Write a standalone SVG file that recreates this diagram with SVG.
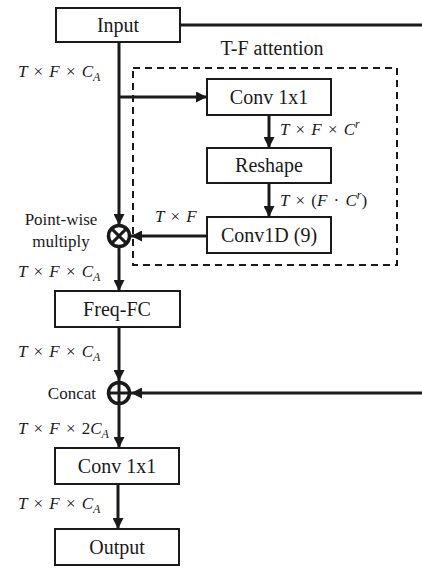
<svg xmlns="http://www.w3.org/2000/svg" width="422" height="568" viewBox="0 0 422 568" font-family="Liberation Serif, Times New Roman, serif">
<defs>
<style>
.box{fill:#fff;stroke:#1a1a1a;stroke-width:2}
.bt{font-size:20px;fill:#1a1a1a;text-anchor:middle}
.lbl{font-size:17px;fill:#1a1a1a}
.m{font-size:17px;fill:#1a1a1a;font-style:italic;word-spacing:2px}
.up{font-style:normal}
.sub{font-size:12px}
.ln{fill:none;stroke:#1a1a1a;stroke-width:3}
.dash{fill:none;stroke:#1a1a1a;stroke-width:2;stroke-dasharray:7,5}
</style>
<marker id="ah" markerUnits="userSpaceOnUse" markerWidth="11" markerHeight="11" viewBox="0 0 11 11" refX="11" refY="5.5" orient="auto">
<path d="M0,0 L11,5.5 L0,11 Z" fill="#1a1a1a"/>
</marker>
</defs>
<rect width="422" height="568" fill="#fff"/>

<g id="attention-frame">
<rect class="dash" x="133" y="68" width="264" height="197"/>
<text class="bt" x="272" y="55">T-F attention</text>
</g>

<g id="connectors">
<line class="ln" x1="180" y1="25" x2="422" y2="25"/>
<line class="ln" x1="119" y1="42" x2="119" y2="225" marker-end="url(#ah)"/>
<line class="ln" x1="118" y1="97" x2="207" y2="97" marker-end="url(#ah)"/>
<line class="ln" x1="269" y1="115" x2="269" y2="148" marker-end="url(#ah)"/>
<line class="ln" x1="269" y1="183" x2="269" y2="217" marker-end="url(#ah)"/>
<line class="ln" x1="207" y1="236" x2="131" y2="236" marker-end="url(#ah)"/>
<line class="ln" x1="119" y1="248" x2="119" y2="291" marker-end="url(#ah)"/>
<line class="ln" x1="119" y1="327" x2="119" y2="381" marker-end="url(#ah)"/>
<line class="ln" x1="422" y1="393" x2="131" y2="393" marker-end="url(#ah)"/>
<line class="ln" x1="119" y1="405" x2="119" y2="448" marker-end="url(#ah)"/>
<line class="ln" x1="118" y1="484" x2="118" y2="529" marker-end="url(#ah)"/>
</g>

<g id="input"><rect class="box" x="56" y="8" width="124" height="34"/><text class="bt" x="118" y="32">Input</text></g>
<g id="conv1x1-a"><rect class="box" x="207" y="79" width="124" height="36"/><text class="bt" x="269" y="104">Conv 1x1</text></g>
<g id="reshape"><rect class="box" x="207" y="148" width="124" height="35"/><text class="bt" x="269" y="172">Reshape</text></g>
<g id="conv1d"><rect class="box" x="207" y="217" width="124" height="36"/><text class="bt" x="269" y="242">Conv1D (9)</text></g>

<g id="multiply">
<circle cx="119" cy="236" r="10.5" fill="#fff" stroke="#1a1a1a" stroke-width="3.5"/>
<path d="M111.6,228.6 L126.4,243.4 M126.4,228.6 L111.6,243.4" stroke="#1a1a1a" stroke-width="3"/>
<text class="lbl" x="61" y="225" text-anchor="middle">Point-wise</text>
<text class="lbl" x="61" y="247" text-anchor="middle">multiply</text>
</g>

<g id="freqfc"><rect class="box" x="55" y="291" width="125" height="36"/><text class="bt" x="117" y="316">Freq-FC</text></g>

<g id="concat">
<circle cx="119" cy="393" r="10.5" fill="#fff" stroke="#1a1a1a" stroke-width="3.5"/>
<path d="M119,382.5 L119,403.5 M108.5,393 L129.5,393" stroke="#1a1a1a" stroke-width="3"/>
<text class="lbl" x="96" y="399" text-anchor="end">Concat</text>
</g>

<g id="conv1x1-b"><rect class="box" x="55" y="448" width="124" height="36"/><text class="bt" x="117" y="473">Conv 1x1</text></g>
<g id="output"><rect class="box" x="55" y="529" width="124" height="36"/><text class="bt" x="117" y="554">Output</text></g>

<g id="labels">
<text class="m" x="18" y="77">T <tspan class="up">×</tspan> F <tspan class="up">×</tspan> C<tspan class="sub" dy="4">A</tspan></text>
<text class="m" x="280" y="135">T <tspan class="up">×</tspan> F <tspan class="up">×</tspan> C<tspan class="sub" dy="-7">r</tspan></text>
<text class="m" x="280" y="206">T <tspan class="up">× (</tspan>F <tspan class="up">·</tspan> C<tspan class="sub" dy="-7">r</tspan><tspan class="up" dy="7">)</tspan></text>
<text class="m" x="155" y="222">T <tspan class="up">×</tspan> F</text>
<text class="m" x="18" y="277">T <tspan class="up">×</tspan> F <tspan class="up">×</tspan> C<tspan class="sub" dy="4">A</tspan></text>
<text class="m" x="18" y="357">T <tspan class="up">×</tspan> F <tspan class="up">×</tspan> C<tspan class="sub" dy="4">A</tspan></text>
<text class="m" x="18" y="434">T <tspan class="up">×</tspan> F <tspan class="up">× 2</tspan>C<tspan class="sub" dy="4">A</tspan></text>
<text class="m" x="18" y="509">T <tspan class="up">×</tspan> F <tspan class="up">×</tspan> C<tspan class="sub" dy="4">A</tspan></text>
</g>
</svg>
